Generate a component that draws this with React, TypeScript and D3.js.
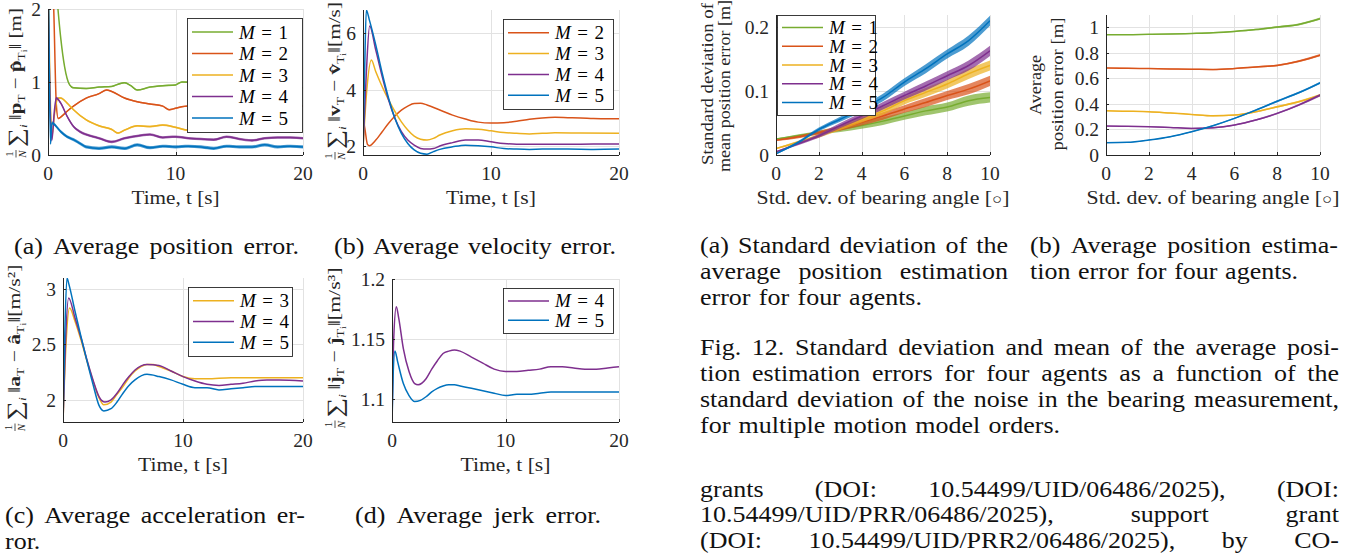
import React, { useLayoutEffect, useRef } from 'react';
import * as d3 from 'd3';

type Pt = [number, number];

const FONT = 'Liberation Serif, DejaVu Serif, serif';
const INK = '#262626';
const GRID = '#e2e2e2';

const orderColors: Record<number, string> = {
  1: '#77AC30',
  2: '#D95319',
  3: '#EDB120',
  4: '#7E2F8E',
  5: '#0072BD',
};

// ---------- Fig. 11(a): average position error [m] vs time [s]
const posM1: Pt[] = [[0, 4], [0.5, 2.6], [0.78, 2.0], [1.0, 1.6], [1.3, 1.21], [1.7, 0.96], [2, 0.92], [3, 0.91], [4, 0.93], [5, 0.94], [5.5, 0.97], [6, 0.99], [6.5, 0.95], [7, 0.89], [8, 0.93], [9, 0.95], [10, 0.96], [10.5, 1.0], [12, 0.99], [14, 0.97], [16, 0.96], [18, 0.94], [20, 0.92]];
const posM2: Pt[] = [[0, 3.5], [0.45, 2.0], [0.65, 0.7], [0.8, 0.5], [1.0, 0.52], [1.5, 0.6], [2, 0.67], [3, 0.78], [4, 0.84], [4.6, 0.89], [5, 0.87], [6, 0.78], [7, 0.73], [8, 0.7], [9, 0.67], [9.5, 0.62], [10, 0.64], [11, 0.67], [13, 0.66], [15, 0.68], [17, 0.67], [20, 0.67]];
const posM3: Pt[] = [[0, 2.5], [0.15, 1.0], [0.3, 0.25], [0.5, 0.55], [0.8, 0.78], [1.0, 0.78], [1.5, 0.71], [2, 0.62], [3, 0.48], [4, 0.4], [5, 0.35], [5.5, 0.3], [6, 0.34], [7, 0.4], [8, 0.39], [9, 0.41], [10, 0.38], [11, 0.34], [13, 0.35], [15, 0.33], [17, 0.34], [20, 0.33]];
const posM4: Pt[] = [[0, 2.2], [0.15, 0.8], [0.3, 0.2], [0.5, 0.6], [0.65, 0.78], [1, 0.71], [1.5, 0.53], [2, 0.39], [2.5, 0.32], [3, 0.28], [4, 0.23], [5, 0.18], [6, 0.23], [7, 0.26], [8, 0.28], [9, 0.24], [10, 0.25], [11, 0.23], [12, 0.22], [13, 0.21], [14, 0.25], [15, 0.22], [16, 0.2], [17, 0.23], [18, 0.24], [19, 0.24], [20, 0.23]];
const posM5: Pt[] = [[0, 3], [0.1, 1.2], [0.2, 0.15], [0.3, 0.44], [0.5, 0.42], [0.7, 0.38], [1, 0.32], [1.5, 0.25], [2, 0.21], [2.5, 0.16], [3, 0.11], [4, 0.09], [5, 0.11], [6, 0.09], [7, 0.14], [8, 0.1], [9, 0.12], [10, 0.11], [11, 0.12], [12, 0.11], [13, 0.09], [14, 0.12], [15, 0.11], [16, 0.11], [17, 0.14], [18, 0.11], [19, 0.12], [20, 0.11]];
const posNoise = [0.01, 0.01, 0.012, 0.018, 0.022];

// ---------- Fig. 11(b): average velocity error [m/s]
const velM2: Pt[] = [[0, 3.0], [0.15, 2.6], [0.35, 2.05], [0.5, 2.0], [1, 2.2], [1.5, 2.5], [2, 2.8], [2.5, 3.06], [3, 3.27], [3.5, 3.41], [4, 3.5], [4.5, 3.51], [5, 3.45], [6, 3.27], [7, 3.09], [8, 2.95], [9, 2.84], [10, 2.81], [11, 2.82], [12, 2.87], [13, 2.94], [14, 2.99], [15, 3.01], [16, 3.0], [17, 2.99], [18, 2.97], [19, 2.96], [20, 2.96]];
const velM3: Pt[] = [[0, 1.9], [0.3, 4.0], [0.65, 5.05], [1, 4.63], [1.5, 4.1], [2, 3.63], [2.5, 3.21], [3, 2.85], [3.5, 2.56], [4, 2.34], [4.5, 2.23], [5, 2.2], [5.5, 2.26], [6, 2.38], [7, 2.53], [8, 2.6], [9, 2.59], [10, 2.53], [11, 2.47], [12, 2.44], [13, 2.42], [14, 2.44], [15, 2.46], [17, 2.45], [20, 2.44]];
const velM4: Pt[] = [[0, 1.9], [0.25, 4.5], [0.52, 6.26], [1, 5.4], [1.5, 4.46], [2, 3.63], [2.5, 2.97], [3, 2.5], [3.5, 2.2], [4, 2.02], [4.5, 1.9], [5, 1.88], [5.5, 1.9], [6, 1.99], [7, 2.11], [8, 2.2], [9, 2.2], [10, 2.14], [11, 2.08], [12, 2.05], [14, 2.05], [16, 2.05], [18, 2.06], [20, 2.06]];
const velM5: Pt[] = [[0, 1.9], [0.12, 4.5], [0.26, 6.83], [0.5, 6.47], [1, 5.58], [1.5, 4.58], [2, 3.69], [2.5, 2.97], [3, 2.44], [3.5, 2.08], [4, 1.85], [4.5, 1.73], [5, 1.7], [5.5, 1.79], [6, 1.87], [7, 1.96], [8, 2.02], [9, 2.0], [10, 1.96], [11, 1.9], [12, 1.88], [13, 1.87], [14, 1.88], [16, 1.88], [18, 1.87], [20, 1.88]];

// ---------- Fig. 11(c): average acceleration error [m/s^2]
const accM3: Pt[] = [[0, 1.8], [0.25, 2.5], [0.55, 2.83], [1, 2.71], [1.5, 2.54], [2, 2.35], [2.5, 2.17], [3, 2.02], [3.4, 1.955], [4, 1.98], [4.5, 2.05], [5, 2.12], [5.5, 2.2], [6, 2.26], [6.5, 2.3], [7, 2.32], [7.5, 2.32], [8, 2.3], [9, 2.26], [10, 2.21], [11, 2.19], [12, 2.19], [14, 2.2], [16, 2.2], [18, 2.2], [20, 2.2]];
const accM4: Pt[] = [[0, 1.8], [0.2, 2.5], [0.47, 2.92], [1, 2.74], [1.5, 2.56], [2, 2.36], [2.5, 2.18], [3, 2.03], [3.5, 1.98], [4, 2.0], [4.5, 2.06], [5, 2.14], [5.5, 2.21], [6, 2.27], [7, 2.32], [8, 2.31], [9, 2.26], [10, 2.21], [11, 2.17], [12, 2.14], [13, 2.13], [14, 2.14], [15, 2.15], [16, 2.17], [17, 2.18], [18, 2.18], [20, 2.17]];
const accM5: Pt[] = [[0, 1.8], [0.15, 2.6], [0.33, 3.1], [0.5, 3.04], [1, 2.8], [1.5, 2.57], [2, 2.35], [2.5, 2.14], [3, 1.95], [3.4, 1.9], [4, 1.92], [4.5, 1.98], [5, 2.06], [5.5, 2.13], [6, 2.18], [7, 2.23], [8, 2.21], [9, 2.18], [10, 2.14], [11, 2.11], [12, 2.11], [13, 2.09], [14, 2.1], [15, 2.11], [16, 2.12], [18, 2.12], [20, 2.12]];

// ---------- Fig. 11(d): average jerk error [m/s^3]
const jerkM4: Pt[] = [[0, 1.08], [0.15, 1.15], [0.38, 1.177], [0.6, 1.167], [1, 1.142], [1.5, 1.123], [2, 1.113], [2.3, 1.112], [3, 1.117], [3.5, 1.125], [4, 1.132], [4.5, 1.138], [5, 1.14], [5.5, 1.141], [6, 1.14], [7, 1.135], [8, 1.13], [9, 1.125], [10, 1.123], [11, 1.123], [12, 1.124], [13, 1.125], [14, 1.127], [15, 1.127], [16, 1.126], [17, 1.125], [18, 1.125], [19, 1.126], [20, 1.127]];
const jerkM5: Pt[] = [[0, 1.08], [0.1, 1.12], [0.26, 1.14], [0.5, 1.131], [1, 1.113], [1.5, 1.103], [2, 1.098], [2.5, 1.099], [3, 1.102], [3.5, 1.106], [4, 1.109], [4.5, 1.111], [5, 1.112], [5.5, 1.112], [6, 1.111], [7, 1.109], [8, 1.107], [9, 1.105], [10, 1.103], [11, 1.104], [12, 1.104], [13, 1.105], [14, 1.106], [16, 1.106], [18, 1.106], [20, 1.106]];

// ---------- Fig. 12: vs std. dev. of bearing angle [deg]
const bearingStd = [0, 1, 2, 3, 4, 5, 6, 7, 8, 9, 10];
const stdM1 = [0.025, 0.03, 0.035, 0.04, 0.046, 0.053, 0.061, 0.069, 0.075, 0.085, 0.09];
const stdM2 = [0.023, 0.028, 0.035, 0.042, 0.051, 0.061, 0.072, 0.082, 0.093, 0.103, 0.116];
const stdM3 = [0.01, 0.02, 0.03, 0.043, 0.056, 0.069, 0.085, 0.098, 0.111, 0.127, 0.14];
const stdM4 = [0.005, 0.017, 0.03, 0.046, 0.061, 0.077, 0.093, 0.108, 0.124, 0.14, 0.163];
const stdM5 = [0.002, 0.019, 0.04, 0.056, 0.072, 0.09, 0.114, 0.135, 0.158, 0.179, 0.21];
const stdNoise = [0.001, 0.002, 0.003, 0.004, 0.005, 0.006, 0.006, 0.007, 0.007, 0.008, 0.008];
const avgM1 = [0.94, 0.94, 0.943, 0.945, 0.95, 0.956, 0.966, 0.98, 1.0, 1.02, 1.065];
const avgM2 = [0.68, 0.678, 0.675, 0.672, 0.67, 0.668, 0.675, 0.688, 0.7, 0.732, 0.78];
const avgM3 = [0.345, 0.342, 0.338, 0.328, 0.317, 0.306, 0.312, 0.338, 0.377, 0.416, 0.467];
const avgM4 = [0.226, 0.224, 0.221, 0.215, 0.208, 0.213, 0.234, 0.273, 0.325, 0.39, 0.467];
const avgM5 = [0.096, 0.099, 0.117, 0.143, 0.182, 0.229, 0.286, 0.351, 0.42, 0.486, 0.564];
const avgNoise = [0.003, 0.003, 0.003, 0.004, 0.004, 0.005, 0.005, 0.006, 0.007, 0.008, 0.009];

// ---------- ticks
const timeTicks = [0, 10, 20];
const posTicks = [0, 1, 2];
const velTicks = [2, 4, 6];
const accTicks = [2, 2.5, 3];
const jerkTicks = [1.1, 1.15, 1.2];
const bearingTicks = [0, 2, 4, 6, 8, 10];
const stdTicks = [0, 0.1, 0.2];
const avgTicks = [0, 0.2, 0.4, 0.6, 0.8, 1];

// ---------- caption text
const captionLines = [
  { x: 14, y: 254, w: 285, t: '(a) Average position error.' },
  { x: 334, y: 254, w: 282, t: '(b) Average velocity error.' },
  { x: 5, y: 523, w: 300, t: '(c) Average acceleration er-' },
  { x: 5, y: 549, w: 0, t: 'ror.' },
  { x: 355, y: 523, w: 246, t: '(d) Average jerk error.' },
  { x: 700, y: 253, w: 308, t: '(a) Standard deviation of the' },
  { x: 700, y: 279, w: 308, t: 'average position estimation' },
  { x: 700, y: 305, w: 222, t: 'error for four agents.' },
  { x: 1030, y: 253, w: 308, t: '(b) Average position estima-' },
  { x: 1030, y: 279, w: 268, t: 'tion error for four agents.' },
  { x: 700, y: 355, w: 639, t: 'Fig. 12. Standard deviation and mean of the average posi-' },
  { x: 700, y: 381, w: 639, t: 'tion estimation errors for four agents as a function of the' },
  { x: 700, y: 407, w: 639, t: 'standard deviation of the noise in the bearing measurement,' },
  { x: 700, y: 433, w: 360, t: 'for multiple motion model orders.' },
  { x: 700, y: 497, w: 639, t: 'grants (DOI: 10.54499/UID/06486/2025), (DOI:' },
  { x: 700, y: 522, w: 639, t: '10.54499/UID/PRR/06486/2025), support grant' },
  { x: 700, y: 548, w: 639, t: '(DOI: 10.54499/UID/PRR2/06486/2025), by CO-' },
];

type Series = { m: number; pts: Pt[]; noise?: number | number[] };
type Box = { l: number; r: number; t: number; b: number };
type Legend = { x0: number; y0: number; x1: number; y1: number; orders: number[] };

const zipS = (xs: number[], ys: number[]): Pt[] => xs.map((v, i) => [v, ys[i]]);

function Axes({ id, box, xDomain, yDomain, xTicks, yTicks, series, legend }: {
  id: string; box: Box; xDomain: number[]; yDomain: number[]; xTicks: number[]; yTicks: number[];
  series: Series[]; legend?: Legend;
}) {
  const x = d3.scaleLinear().domain(xDomain).range([box.l, box.r]);
  const y = d3.scaleLinear().domain(yDomain).range([box.b, box.t]);
  const line = d3.line<Pt>().x(d => x(d[0])).y(d => y(d[1])).curve(d3.curveMonotoneX);
  const area = d3.area<[number, number, number]>()
    .x(d => x(d[0])).y0(d => y(d[1] - d[2])).y1(d => y(d[1] + d[2])).curve(d3.curveMonotoneX);
  const crisp = (v: number) => Math.round(v) + 0.5;
  return (
    <g>
      <defs>
        <clipPath id={id}><rect x={box.l} y={box.t} width={box.r - box.l} height={box.b - box.t} /></clipPath>
      </defs>
      <g stroke={GRID} strokeWidth={1}>
        {xTicks.filter(t => t !== xDomain[0]).map(t => (
          <line key={'gx' + t} x1={crisp(x(t))} x2={crisp(x(t))} y1={box.b} y2={box.t} />
        ))}
        {yTicks.filter(t => t !== yDomain[0]).map(t => (
          <line key={'gy' + t} x1={box.l} x2={box.r} y1={crisp(y(t))} y2={crisp(y(t))} />
        ))}
      </g>
      <g clipPath={`url(#${id})`}>
        {series.map(s => {
          const col = orderColors[s.m];
          const withN = s.noise !== undefined
            ? s.pts.map((p, i) => [p[0], p[1], typeof s.noise === 'number' ? s.noise : (s.noise as number[])[i]] as [number, number, number])
            : null;
          return (
            <g key={s.m}>
              {withN && <path d={area(withN) || ''} fill={col} fillOpacity={0.7} stroke="none" />}
              <path d={line(s.pts) || ''} fill="none" stroke={col} strokeWidth={1.5} strokeLinejoin="round" />
            </g>
          );
        })}
      </g>
      <g stroke={INK} strokeWidth={1} fill="none">
        <line x1={crisp(box.l)} x2={crisp(box.l)} y1={box.b + 0.5} y2={box.t} />
        <line x1={box.l} x2={box.r} y1={crisp(box.b)} y2={crisp(box.b)} />
        {xTicks.map(t => <line key={'tx' + t} x1={crisp(x(t))} x2={crisp(x(t))} y1={box.b} y2={box.b - 3} />)}
        {yTicks.map(t => <line key={'ty' + t} x1={box.l} x2={box.l + 3} y1={crisp(y(t))} y2={crisp(y(t))} />)}
      </g>
      <g fill={INK} fontSize={19.5}>
        {xTicks.map(t => (
          <text key={'lx' + t} x={x(t)} y={box.b + 25} textAnchor="middle">{String(t)}</text>
        ))}
        {yTicks.map(t => (
          <text key={'ly' + t} x={box.l - 7} y={y(t) + 7} textAnchor="end">{String(t)}</text>
        ))}
      </g>
      {legend && (() => {
        const { x0, y0, x1, y1, orders } = legend;
        const step = (y1 - y0 - 6.5) / orders.length;
        return (
          <g>
            <rect x={x0 + 0.5} y={y0 + 0.5} width={x1 - x0} height={y1 - y0} fill="#fff" stroke={INK} strokeWidth={0.9} />
            {orders.map((m, i) => {
              const cy = y0 + 3.25 + step * (i + 0.5);
              return (
                <g key={m}>
                  <line x1={x0 + 5} x2={x0 + 46} y1={cy} y2={cy} stroke={orderColors[m]} strokeWidth={1.5} />
                  <text x={x0 + 52} y={cy + 6.5} fontSize={19} fill="#000" textLength={49} lengthAdjust="spacing">
                    <tspan fontStyle="italic">M</tspan>{` = ${m}`}
                  </text>
                </g>
              );
            })}
          </g>
        );
      })()}
    </g>
  );
}

function MathYLabel({ bx, cy, len, sym, symHat, unit }: { bx: number; cy: number; len: number; sym: string; symHat: string; unit: string }) {
  const sx = -len / 2;
  return (
    <g transform={`translate(${bx},${cy}) rotate(-90)`} fill={INK}>
      <text x={sx + 4} y={-8} fontSize={11} textAnchor="middle">1</text>
      <line x1={sx + 0.5} x2={sx + 8} y1={-5} y2={-5} stroke={INK} strokeWidth={0.8} />
      <text x={sx + 4} y={5} fontSize={11} fontStyle="italic" textAnchor="middle">N</text>
      <text x={sx + 11} y={0} fontSize={17.5} textLength={len - 11} lengthAdjust="spacingAndGlyphs">
        <tspan fontSize={22} dy={1.5}>∑</tspan>
        <tspan fontSize={11} fontStyle="italic" dy={4}>i</tspan>
        <tspan dy={-5.5}>{'\u2009‖'}</tspan>
        <tspan fontWeight="bold">{sym}</tspan>
        <tspan fontSize={11} dy={3.5}>T</tspan>
        <tspan dy={-3.5}>{' − '}</tspan>
        <tspan fontWeight="bold">{symHat}</tspan>
        <tspan fontSize={11} dy={3.5}>T</tspan>
        <tspan fontSize={8} dy={2}>i</tspan>
        <tspan dy={-5.5}>{'‖' + unit}</tspan>
      </text>
    </g>
  );
}

function RotLabel({ bx, cy, len, text, size = 17.5 }: { bx: number; cy: number; len: number; text: string; size?: number }) {
  return (
    <text transform={`translate(${bx},${cy}) rotate(-90)`} textAnchor="middle" fontSize={size} fill={INK}
      textLength={len} lengthAdjust="spacingAndGlyphs">{text}</text>
  );
}

function XLabel({ cx, y, len, children }: { cx: number; y: number; len: number; children: React.ReactNode }) {
  return (
    <text x={cx} y={y} textAnchor="middle" fontSize={19.5} fill={INK} textLength={len} lengthAdjust="spacingAndGlyphs">{children}</text>
  );
}

const STRETCH = 1.13;
function CapLine({ x, y, w, t }: { x: number; y: number; w: number; t: string }) {
  const ref = useRef<SVGTextElement>(null);
  const words = t.split(' ');
  useLayoutEffect(() => {
    const el = ref.current;
    if (!el) return;
    const spans = Array.from(el.querySelectorAll('tspan')) as SVGTextContentElement[];
    const ws = spans.map(s => s.getComputedTextLength());
    const total = ws.reduce((a, b) => a + b, 0);
    const target = w / STRETCH;
    const gap = w > 0 && words.length > 1 ? (target - total) / (words.length - 1) : 6.5;
    let cx = 0;
    spans.forEach((s, i) => { s.setAttribute('x', String(cx)); cx += ws[i] + gap; });
  }, [x, y, w, t]);
  return (
    <text ref={ref} transform={`translate(${x},${y}) scale(${STRETCH},1)`} fontSize={23} fill="#111">
      {words.map((wd, i) => <tspan key={i} x={0}>{wd}</tspan>)}
    </text>
  );
}

export default function App() {
  useLayoutEffect(() => { document.body.style.margin = '0'; }, []);
  const posSeries: Series[] = [posM1, posM2, posM3, posM4, posM5].map((pts, i) => ({ m: i + 1, pts, noise: posNoise[i] }));
  const velSeries: Series[] = [velM2, velM3, velM4, velM5].map((pts, i) => ({ m: i + 2, pts }));
  const accSeries: Series[] = [accM3, accM4, accM5].map((pts, i) => ({ m: i + 3, pts }));
  const jerkSeries: Series[] = [jerkM4, jerkM5].map((pts, i) => ({ m: i + 4, pts }));
  const stdSeries: Series[] = [stdM1, stdM2, stdM3, stdM4, stdM5].map((v, i) => ({ m: i + 1, pts: zipS(bearingStd, v), noise: stdNoise }));
  const avgSeries: Series[] = [avgM1, avgM2, avgM3, avgM4, avgM5].map((v, i) => ({ m: i + 1, pts: zipS(bearingStd, v), noise: avgNoise }));

  return (
    <svg width={1368} height={556} viewBox="0 0 1368 556" fontFamily={FONT}
      style={{ display: 'block', position: 'absolute', left: 0, top: 0, background: '#fff' }}>
      <rect width={1368} height={556} fill="#fff" />

      <Axes id="ca" box={{ l: 48, r: 303, t: 9, b: 155 }} xDomain={[0, 20]} yDomain={[0, 2]}
        xTicks={timeTicks} yTicks={posTicks} series={posSeries}
        legend={{ x0: 187, y0: 18, x1: 302, y1: 132, orders: [1, 2, 3, 4, 5] }} />
      <MathYLabel bx={21} cy={83} len={150} sym="p" symHat={'p\u0302'} unit=" [m]" />
      <XLabel cx={175.5} y={204} len={88}>Time, t [s]</XLabel>

      <Axes id="cb" box={{ l: 363, r: 619, t: 10, b: 155 }} xDomain={[0, 20]} yDomain={[1.67, 6.83]}
        xTicks={timeTicks} yTicks={velTicks} series={velSeries}
        legend={{ x0: 503, y0: 19, x1: 613, y1: 109, orders: [2, 3, 4, 5] }} />
      <MathYLabel bx={340} cy={81} len={158} sym="v" symHat={'v\u0302'} unit="[m/s]" />
      <XLabel cx={491} y={204} len={90}>Time, t [s]</XLabel>

      <Axes id="cc" box={{ l: 63, r: 303, t: 278, b: 422 }} xDomain={[0, 20]} yDomain={[1.8, 3.1]}
        xTicks={timeTicks} yTicks={accTicks} series={accSeries}
        legend={{ x0: 188, y0: 287, x1: 292, y1: 356, orders: [3, 4, 5] }} />
      <MathYLabel bx={20} cy={348} len={167} sym="a" symHat={'\u00e2'} unit="[m/s²]" />
      <XLabel cx={183} y={471} len={90}>Time, t [s]</XLabel>

      <Axes id="cd" box={{ l: 392, r: 619, t: 279, b: 422 }} xDomain={[0, 20]} yDomain={[1.081, 1.2]}
        xTicks={timeTicks} yTicks={jerkTicks} series={jerkSeries}
        legend={{ x0: 503, y0: 288, x1: 613, y1: 333, orders: [4, 5] }} />
      <MathYLabel bx={340} cy={348} len={161} sym="j" symHat={'\u0135'} unit="[m/s³]" />
      <XLabel cx={505.5} y={471} len={90}>Time, t [s]</XLabel>

      <Axes id="ce" box={{ l: 776, r: 990, t: 15, b: 155 }} xDomain={[0, 10]} yDomain={[0, 0.219]}
        xTicks={bearingTicks} yTicks={stdTicks} series={stdSeries}
        legend={{ x0: 777, y0: 15, x1: 875, y1: 115, orders: [1, 2, 3, 4, 5] }} />
      <RotLabel bx={713} cy={84} len={162} text="Standard deviation of" />
      <RotLabel bx={730} cy={86} len={172} text="mean position error [m]" />
      <XLabel cx={883} y={204} len={253}>Std. dev. of bearing angle [<tspan fontSize={15}>○</tspan>]</XLabel>

      <Axes id="cf" box={{ l: 1106, r: 1320, t: 15, b: 155 }} xDomain={[0, 10]} yDomain={[0, 1.094]}
        xTicks={bearingTicks} yTicks={avgTicks} series={avgSeries} />
      <RotLabel bx={1041} cy={85} len={60} text="Average" />
      <RotLabel bx={1063} cy={84} len={133} text="position error [m]" />
      <XLabel cx={1213} y={204} len={253}>Std. dev. of bearing angle [<tspan fontSize={15}>○</tspan>]</XLabel>

      {captionLines.map((c, i) => <CapLine key={i} {...c} />)}
    </svg>
  );
}
